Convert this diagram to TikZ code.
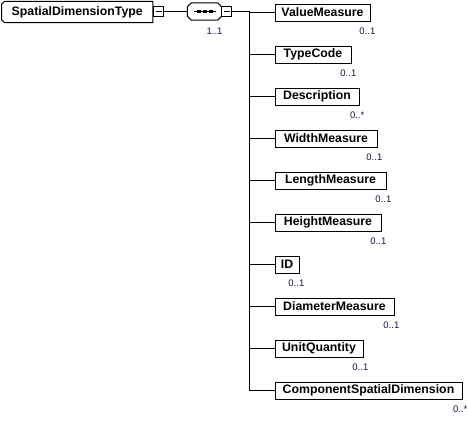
\documentclass[tikz,border=0pt]{standalone}
\usepackage{fontspec}
\setmainfont{Liberation Sans}
\usetikzlibrary{calc}
\definecolor{multc}{RGB}{20,20,70}
\begin{document}
\begin{tikzpicture}[x=1pt,y=-1pt,
  elem/.style={draw=black,line width=1pt,fill=white,minimum height=17pt,inner sep=0pt,anchor=west,
    font=\bfseries\fontsize{12.3}{14}\selectfont},
  mult/.style={font=\fontsize{9.5}{11}\selectfont,text=multc,inner sep=0pt,anchor=base east},
  minusbox/.style={draw=black,line width=1pt,fill=white,minimum size=10pt,inner sep=0pt},
  conn/.style={line width=1pt,line cap=rect}]
\useasboundingbox (0,0) rectangle (468,423);

% root (complex type) with chamfered left corners
\node[inner sep=0pt,minimum width=151pt,minimum height=21pt,anchor=west,
  font=\bfseries\fontsize{12.3}{14}\selectfont] (root) at (1.5,12) {SpatialDimensionType};
\draw[line width=1pt] ($(root.north west)+(3,0)$) -- (root.north east) -- (root.south east)
  -- ($(root.south west)+(3,0)$) -- ($(root.south west)+(0,-3)$) -- ($(root.north west)+(0,3)$) -- cycle;

\node[minusbox] (rminus) at (158.5,11.5) {};
\draw[line width=1pt] ($(rminus.center)+(-3,0)$) -- ($(rminus.center)+(3,0)$);

% sequence compositor
\node[inner sep=0pt,minimum width=34pt,minimum height=17pt] (seq) at (204.5,11.5) {};
\draw[line width=1pt] ($(seq.north west)+(4,0)$) -- ($(seq.north east)+(-4,0)$) -- ($(seq.north east)+(0,4)$)
  -- ($(seq.south east)+(0,-4)$) -- ($(seq.south east)+(-4,0)$) -- ($(seq.south west)+(4,0)$)
  -- ($(seq.south west)+(0,-4)$) -- ($(seq.north west)+(0,4)$) -- cycle;
\draw[line width=1pt] ($(seq.center)+(-11,0)$) -- ($(seq.center)+(11,0)$);
\foreach \dx in {-6,0,6} \fill ($(seq.center)+(\dx-2,-1.5)$) rectangle ($(seq.center)+(\dx+2,1.5)$);
\node[mult] (seqm) at ($(seq.south east)+(1,14)$) {1..1};

\node[minusbox] (sminus) at (226.5,11.5) {};
\draw[line width=1pt] ($(sminus.center)+(-3,0)$) -- ($(sminus.center)+(3,0)$);

\draw[conn] (rminus.east) -- (seq.west);
\coordinate (bus) at (249,11.5);
\draw[conn] (sminus.east) -- (bus);

% children
\foreach \i/\name/\w/\m in {
  0/ValueMeasure/95/0..1,
  1/TypeCode/76/0..1,
  2/Description/84/0..*,
  3/WidthMeasure/102/0..1,
  4/LengthMeasure/111/0..1,
  5/HeightMeasure/106/0..1,
  6/ID/24/0..1,
  7/DiameterMeasure/119/0..1,
  8/UnitQuantity/88/0..1,
  9/ComponentSpatialDimension/187/0..*}{
  \node[elem,minimum width=\w pt] (c\i) at (274.5,{12.5+42*\i}) {\name};
  \node[mult] (m\i) at ($(c\i.south east)+(5,13)$) {\m};
  \draw[conn] (bus) |- (c\i.west);
}
\end{tikzpicture}
\end{document}
